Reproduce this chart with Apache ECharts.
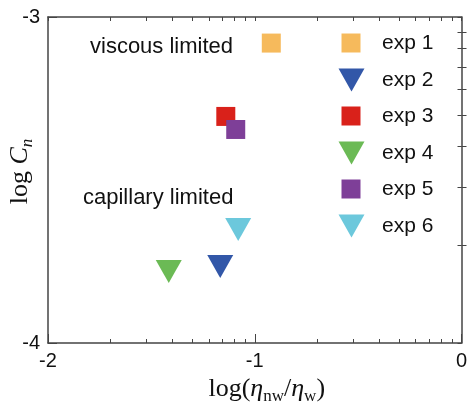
<!DOCTYPE html>
<html>
<head>
<meta charset="utf-8">
<script src="https://cdn.jsdelivr.net/npm/echarts@6/dist/echarts.min.js"></script>
<style>html,body{margin:0;padding:0;background:#fff;}#c{width:468px;height:407px;}</style>
</head>
<body>
<div id="c"></div>
<script>
// ---- data ----
var seriesNames = ['exp 1', 'exp 2', 'exp 3', 'exp 4', 'exp 5', 'exp 6'];
var xValues = [-0.92, -1.167, -1.14, -1.416, -1.092, -1.08];   // log(eta_nw/eta_w)
var yValues = [-3.08, -3.765, -3.305, -3.781, -3.345, -3.652]; // log Cn
var seriesColors = ['#F6BA5C', '#3257A8', '#D9211A', '#6BBA55', '#7E3F98', '#6CC8DC'];
var seriesShapes = ['square', 'down', 'square', 'down', 'square', 'down'];
var xTickLabels = [-2, -1, 0];
var yTickLabels = [-4, -3];
var annotations = ['viscous limited', 'capillary limited'];

// minor (logarithmic) tick positions within each decade
function logMinor(starts) {
  var out = [];
  starts.forEach(function (s) { for (var k = 2; k <= 9; k++) out.push(s + Math.log10(k)); });
  return out;
}
var xMinor = logMinor([-2, -1]);
var yMinor = logMinor([-4]);

var axisCol = '#444';
var sans = '"Liberation Sans", Arial, sans-serif';
var serif = '"Liberation Serif", "Times New Roman", serif';
var downTriangle = 'path://M0,0L26,0L13,23Z';

function baseX(extra) {
  return Object.assign({
    type: 'value', min: -2, max: 0, interval: 1, gridIndex: 0,
    splitLine: { show: false },
    axisLine: { show: false, lineStyle: { color: axisCol, width: 1.5 } },
    axisLabel: { show: false },
    axisTick: { show: false }
  }, extra);
}
function baseY(extra) {
  return Object.assign({
    type: 'value', min: -4, max: -3, interval: 1, gridIndex: 0,
    splitLine: { show: false },
    axisLine: { show: false, lineStyle: { color: axisCol, width: 1.5 } },
    axisLabel: { show: false },
    axisTick: { show: false }
  }, extra);
}

var xAxes = [
  baseX({
    position: 'bottom',
    axisLine: { show: true, onZero: false, lineStyle: { color: axisCol, width: 1.5 } },
    axisTick: { show: true, inside: true, length: 9, customValues: xTickLabels, lineStyle: { color: axisCol, width: 1 } },
    axisLabel: { show: true, customValues: xTickLabels, fontSize: 20, color: '#111', fontFamily: sans, margin: 8 },
    name: '{a|log(}{e|η}{s|nw}{a|/}{e|η}{s|w}{a|)}',
    nameLocation: 'middle', nameGap: 26,
    nameTextStyle: {
      padding: [0, 0, 0, 24],
      rich: {
        a: { fontFamily: serif, fontSize: 26, color: '#111', lineHeight: 32 },
        e: { fontFamily: serif, fontSize: 26, fontStyle: 'italic', color: '#111', lineHeight: 32 },
        s: { fontFamily: serif, fontSize: 17, color: '#111', lineHeight: 17, verticalAlign: 'bottom' }
      }
    }
  }),
  baseX({ position: 'bottom', axisTick: { show: true, inside: true, length: 4, customValues: xMinor, lineStyle: { color: axisCol } } }),
  baseX({ position: 'top', axisLine: { show: true, onZero: false, lineStyle: { color: axisCol, width: 1.5 } },
          axisTick: { show: true, inside: true, length: 4, customValues: xMinor.concat(xTickLabels), lineStyle: { color: axisCol } } })
];
var yAxes = [
  baseY({
    position: 'left',
    axisLine: { show: true, onZero: false, lineStyle: { color: axisCol, width: 1.5 } },
    axisTick: { show: true, inside: true, length: 9, customValues: yTickLabels, lineStyle: { color: axisCol } },
    axisLabel: { show: true, customValues: yTickLabels, fontSize: 20, color: '#111', fontFamily: sans, margin: 8 },
    name: '{a|log }{c|C}{s|n}',
    nameLocation: 'middle', nameGap: 12, nameMoveOverlap: false,
    nameTextStyle: {
      padding: [0, 0, 0, 17],
      rich: {
        a: { fontFamily: serif, fontSize: 26, color: '#111', lineHeight: 32 },
        c: { fontFamily: serif, fontSize: 26, fontStyle: 'italic', color: '#111', lineHeight: 32 },
        s: { fontFamily: serif, fontSize: 17, fontStyle: 'italic', color: '#111', lineHeight: 17, verticalAlign: 'bottom' }
      }
    }
  }),
  baseY({ position: 'left', axisTick: { show: true, inside: true, length: 5, customValues: yMinor, lineStyle: { color: axisCol } } }),
  baseY({ position: 'right', axisLine: { show: true, onZero: false, lineStyle: { color: axisCol, width: 1.5 } },
          axisTick: { show: true, inside: true, length: 4, customValues: yMinor.concat(yTickLabels), lineStyle: { color: axisCol } } })
];

var series = seriesNames.map(function (n, i) {
  var tri = seriesShapes[i] === 'down';
  return {
    name: n, type: 'scatter', xAxisIndex: 0, yAxisIndex: 0,
    symbol: tri ? downTriangle : 'rect',
    symbolSize: tri ? [26, 23] : 19,
    symbolKeepAspect: false,
    itemStyle: { color: seriesColors[i], opacity: 1 },
    data: [[xValues[i], yValues[i]]]
  };
});

var squareNames = seriesNames.filter(function (n, i) { return seriesShapes[i] === 'square'; });
var triNames = seriesNames.filter(function (n, i) { return seriesShapes[i] === 'down'; });

var chart = echarts.init(document.getElementById('c'), null, { renderer: 'canvas' });
chart.setOption({
  animation: false,
  backgroundColor: '#fff',
  grid: { left: 48, right: 6.5, top: 17, bottom: 64, containLabel: false, outerBoundsMode: 'none' },
  xAxis: xAxes,
  yAxis: yAxes,
  legend: [
    { data: squareNames, orient: 'vertical', left: 341.5, top: 31, padding: 0,
      itemWidth: 19, itemHeight: 19, itemGap: 49, icon: 'rect',
      textStyle: { fontSize: 21, fontFamily: sans, color: '#111', lineHeight: 24, padding: [0, 0, 0, 16.5] } },
    { data: triNames.map(function (n) { return { name: n, icon: downTriangle }; }),
      orient: 'vertical', left: 338.5, top: 68, padding: 0,
      itemWidth: 26, itemHeight: 23, itemGap: 49, symbolKeepAspect: false,
      textStyle: { fontSize: 21, fontFamily: sans, color: '#111', lineHeight: 24, padding: [0, 0, 0, 12.5] } }
  ],
  graphic: [
    { type: 'text', x: 90, y: 47, style: { text: annotations[0], font: '22px ' + sans, fill: '#111', verticalAlign: 'middle' } },
    { type: 'text', x: 83, y: 198, style: { text: annotations[1], font: '22px ' + sans, fill: '#111', verticalAlign: 'middle' } }
  ],
  series: series
});
</script>
</body>
</html>
